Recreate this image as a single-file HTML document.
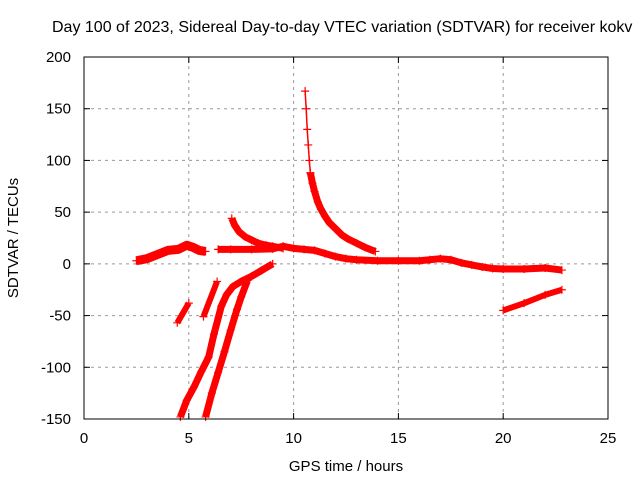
<!DOCTYPE html>
<html><head><meta charset="utf-8"><style>
body{margin:0;background:#fff;}
svg{display:block;font-family:"Liberation Sans",sans-serif;}
</style></head><body>
<svg id="chart" width="640" height="480">
<rect width="640" height="480" fill="#fff"/>
<text x="52" y="32" font-size="16" text-anchor="start">Day 100 of 2023, Sidereal Day-to-day VTEC variation (SDTVAR) for receiver kokv</text>
<g id="grid"></g>
<g id="series"></g>
<rect x="84" y="57" width="524" height="362" fill="none" stroke="#000" stroke-width="1"/>
<g id="axes"></g>
<text x="346" y="471" font-size="15" text-anchor="middle">GPS time / hours</text>
<text transform="translate(18,238) rotate(-90)" font-size="15" text-anchor="middle">SDTVAR / TECUs</text>
</svg>
<script>
const xTicks=[0,5,10,15,20,25];
const yTicks=[-150,-100,-50,0,50,100,150,200];
const s1=[[2.5,3],[3,5],[3.5,9],[4,13],[4.5,14],[4.9,18],[5.2,16],[5.5,13],[5.8,12]];
const s2=[[6.4,14],[7,14],[8,14],[9,14.5],[9.5,17],[10,15],[10.5,14],[11,13],[11.5,10],[12,7],[12.5,5],[13,4],[14,3],[15,3],[16,3],[16.5,4],[17,5],[17.5,4],[18,1],[18.5,-1],[19,-3],[19.5,-4.5],[20,-5],[21,-5],[22,-4],[22.8,-6]];
const s3a=[[10.55,167],[10.6,150],[10.65,130],[10.7,115],[10.75,100],[10.8,88]];
const s3=[[10.8,88],[10.9,78],[11,70],[11.15,60],[11.3,53],[11.5,46],[11.7,40],[12,34],[12.3,28],[12.6,24],[13,20],[13.4,16],[13.9,12]];
const s4=[[7.05,44],[7.2,37],[7.4,31],[7.7,26],[8,23],[8.3,20],[8.7,18],[9,17],[9.5,15]];
const s5=[[20,-45],[21,-38],[22,-30],[22.8,-25]];
const s6=[[4.6,-148],[4.9,-132],[5.25,-119],[5.6,-104],[5.95,-90],[6.2,-68],[6.55,-41],[6.8,-30],[7.1,-22],[7.5,-17],[8,-12],[8.5,-6],[9,0]];
const s7=[[5.8,-148],[6.1,-125],[6.4,-105],[6.7,-85],[7,-64],[7.3,-44],[7.5,-32],[7.8,-16]];
const s8=[[4.45,-57],[5,-38]];
const s9=[[5.7,-51],[6.35,-17]];
const allSeries=[s1,s2,s3a,s3,s4,s5,s6,s7,s8,s9];
const widths=[9,7,1.5,7,7,6,7,7,6,6];
const X0=84,X1=608,Y0=419,Y1=57;
const xs=h=>X0+(h-0)/25*(X1-X0);
const ys=v=>Y0-(v+150)/350*(Y0-Y1);
const NS="http://www.w3.org/2000/svg";
const grid=document.getElementById('grid'),axes=document.getElementById('axes'),ser=document.getElementById('series');
function mk(t,a,p){const e=document.createElementNS(NS,t);for(const k in a)e.setAttribute(k,a[k]);p.appendChild(e);return e;}
xTicks.forEach(t=>{const x=xs(t);
 if(t>0&&t<25){const g=mk('line',{x1:x,x2:x,y1:Y0,y2:Y1,stroke:'#999','stroke-dasharray':'3,4'},grid);
 
 }
 mk('line',{x1:x,x2:x,y1:Y0,y2:Y0-6,stroke:'#000'},axes);mk('line',{x1:x,x2:x,y1:Y1,y2:Y1+6,stroke:'#000'},axes);
 const l=mk('text',{x:x,y:443,'font-size':15,'text-anchor':'middle'},axes);l.textContent=t;
 
 });
yTicks.forEach(t=>{const y=ys(t);
 if(t>-150&&t<200){const g=mk('line',{x1:X0,x2:X1,y1:y,y2:y,stroke:'#999','stroke-dasharray':'3,4'},grid);
 
 }
 mk('line',{x1:X0,x2:X0+6,y1:y,y2:y,stroke:'#000'},axes);mk('line',{x1:X1,x2:X1-6,y1:y,y2:y,stroke:'#000'},axes);
 const l=mk('text',{x:71,y:y+5,'font-size':15,'text-anchor':'end'},axes);l.textContent=t;
 
 });
allSeries.forEach((s,i)=>{
 const pts=s.map(p=>xs(p[0])+','+ys(p[1])).join(' ');
 const pl=mk('polyline',{points:pts,fill:'none',stroke:'#f00','stroke-width':widths[i],'stroke-linejoin':'round','stroke-linecap':'butt'},ser);
 
 
 s.forEach(p=>{const x=xs(p[0]),y=ys(p[1]);
  const m=mk('path',{d:`M${x-4},${y}H${x+4}M${x},${y-4}V${y+4}`,stroke:'#f00','stroke-width':1.2},ser);
  
  });
});
</script>
</body></html>
